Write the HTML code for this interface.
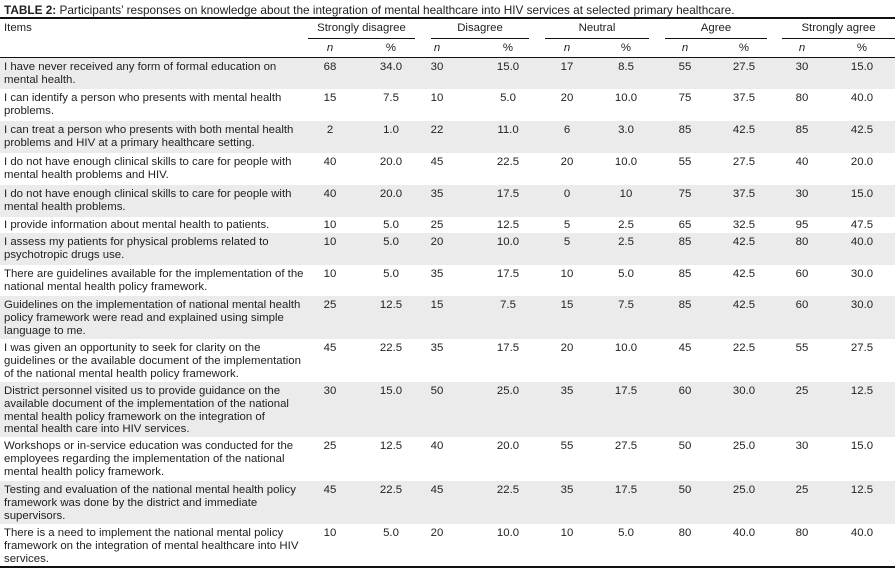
<!DOCTYPE html>
<html><head><meta charset="utf-8"><style>
body{margin:0;width:895px;height:573px;background:#fff;font-family:"Liberation Sans",sans-serif;color:#222;position:relative;overflow:hidden;font-size:11.4px;}
.a{position:absolute;white-space:nowrap;}
.r{position:absolute;left:0;width:895px;}
.g{background:#ebebeb;}
.it{position:absolute;left:4px;top:3px;line-height:12.8px;white-space:nowrap;}
.c{position:absolute;top:3px;width:40px;margin-left:-20px;text-align:center;line-height:12.8px;}
.ln{position:absolute;left:0;width:895px;background:#111;}
.ul{position:absolute;top:38px;height:1px;background:#111;}
.h{position:absolute;top:22px;text-align:center;}
.sub{position:absolute;top:42px;width:40px;margin-left:-20px;text-align:center;}
</style></head><body>
<div class="a" style="left:4px;top:3px;font-size:11.8px;"><b>TABLE 2:</b> Participants’ responses on knowledge about the integration of mental healthcare into HIV services at selected primary healthcare.</div>
<div class="ln" style="top:17px;height:2px;"></div>
<div class="a" style="left:4px;top:22px;">Items</div>
<div class="h" style="left:308px;width:107px;">Strongly disagree</div>
<div class="h" style="left:431px;width:98px;">Disagree</div>
<div class="h" style="left:545px;width:104px;">Neutral</div>
<div class="h" style="left:665px;width:102px;">Agree</div>
<div class="h" style="left:782px;width:113px;">Strongly agree</div>
<div class="ul" style="left:308px;width:107px;"></div>
<div class="ul" style="left:431px;width:98px;"></div>
<div class="ul" style="left:545px;width:104px;"></div>
<div class="ul" style="left:665px;width:102px;"></div>
<div class="ul" style="left:782px;width:113px;"></div>
<div class="sub" style="left:330px;"><i>n</i></div><div class="sub" style="left:391px;">%</div>
<div class="sub" style="left:437px;"><i>n</i></div><div class="sub" style="left:508px;">%</div>
<div class="sub" style="left:567px;"><i>n</i></div><div class="sub" style="left:626px;">%</div>
<div class="sub" style="left:685px;"><i>n</i></div><div class="sub" style="left:744px;">%</div>
<div class="sub" style="left:802px;"><i>n</i></div><div class="sub" style="left:862px;">%</div>
<div class="ln" style="top:57px;height:1px;"></div>

<div class="r g" style="top:58px;height:31px;"><div class="it">I have never received any form of formal education on<br>mental health.</div>
<div class="c" style="left:330px">68</div><div class="c" style="left:391px">34.0</div><div class="c" style="left:437px">30</div><div class="c" style="left:508px">15.0</div><div class="c" style="left:567px">17</div><div class="c" style="left:626px">8.5</div><div class="c" style="left:685px">55</div><div class="c" style="left:744px">27.5</div><div class="c" style="left:802px">30</div><div class="c" style="left:862px">15.0</div></div>

<div class="r" style="top:89px;height:32px;"><div class="it">I can identify a person who presents with mental health<br>problems.</div>
<div class="c" style="left:330px">15</div><div class="c" style="left:391px">7.5</div><div class="c" style="left:437px">10</div><div class="c" style="left:508px">5.0</div><div class="c" style="left:567px">20</div><div class="c" style="left:626px">10.0</div><div class="c" style="left:685px">75</div><div class="c" style="left:744px">37.5</div><div class="c" style="left:802px">80</div><div class="c" style="left:862px">40.0</div></div>

<div class="r g" style="top:121px;height:32px;"><div class="it">I can treat a person who presents with both mental health<br>problems and HIV at a primary healthcare setting.</div>
<div class="c" style="left:330px">2</div><div class="c" style="left:391px">1.0</div><div class="c" style="left:437px">22</div><div class="c" style="left:508px">11.0</div><div class="c" style="left:567px">6</div><div class="c" style="left:626px">3.0</div><div class="c" style="left:685px">85</div><div class="c" style="left:744px">42.5</div><div class="c" style="left:802px">85</div><div class="c" style="left:862px">42.5</div></div>

<div class="r" style="top:153px;height:32px;"><div class="it">I do not have enough clinical skills to care for people with<br>mental health problems and HIV.</div>
<div class="c" style="left:330px">40</div><div class="c" style="left:391px">20.0</div><div class="c" style="left:437px">45</div><div class="c" style="left:508px">22.5</div><div class="c" style="left:567px">20</div><div class="c" style="left:626px">10.0</div><div class="c" style="left:685px">55</div><div class="c" style="left:744px">27.5</div><div class="c" style="left:802px">40</div><div class="c" style="left:862px">20.0</div></div>

<div class="r g" style="top:185px;height:32px;"><div class="it">I do not have enough clinical skills to care for people with<br>mental health problems.</div>
<div class="c" style="left:330px">40</div><div class="c" style="left:391px">20.0</div><div class="c" style="left:437px">35</div><div class="c" style="left:508px">17.5</div><div class="c" style="left:567px">0</div><div class="c" style="left:626px">10</div><div class="c" style="left:685px">75</div><div class="c" style="left:744px">37.5</div><div class="c" style="left:802px">30</div><div class="c" style="left:862px">15.0</div></div>

<div class="r" style="top:217px;height:16px;"><div class="it" style="top:2px">I provide information about mental health to patients.</div>
<div class="c" style="left:330px;top:2px">10</div><div class="c" style="left:391px;top:2px">5.0</div><div class="c" style="left:437px;top:2px">25</div><div class="c" style="left:508px;top:2px">12.5</div><div class="c" style="left:567px;top:2px">5</div><div class="c" style="left:626px;top:2px">2.5</div><div class="c" style="left:685px;top:2px">65</div><div class="c" style="left:744px;top:2px">32.5</div><div class="c" style="left:802px;top:2px">95</div><div class="c" style="left:862px;top:2px">47.5</div></div>

<div class="r g" style="top:233px;height:32px;"><div class="it">I assess my patients for physical problems related to<br>psychotropic drugs use.</div>
<div class="c" style="left:330px">10</div><div class="c" style="left:391px">5.0</div><div class="c" style="left:437px">20</div><div class="c" style="left:508px">10.0</div><div class="c" style="left:567px">5</div><div class="c" style="left:626px">2.5</div><div class="c" style="left:685px">85</div><div class="c" style="left:744px">42.5</div><div class="c" style="left:802px">80</div><div class="c" style="left:862px">40.0</div></div>

<div class="r" style="top:265px;height:31px;"><div class="it">There are guidelines available for the implementation of the<br>national mental health policy framework.</div>
<div class="c" style="left:330px">10</div><div class="c" style="left:391px">5.0</div><div class="c" style="left:437px">35</div><div class="c" style="left:508px">17.5</div><div class="c" style="left:567px">10</div><div class="c" style="left:626px">5.0</div><div class="c" style="left:685px">85</div><div class="c" style="left:744px">42.5</div><div class="c" style="left:802px">60</div><div class="c" style="left:862px">30.0</div></div>

<div class="r g" style="top:296px;height:43px;"><div class="it">Guidelines on the implementation of national mental health<br>policy framework were read and explained using simple<br>language to me.</div>
<div class="c" style="left:330px">25</div><div class="c" style="left:391px">12.5</div><div class="c" style="left:437px">15</div><div class="c" style="left:508px">7.5</div><div class="c" style="left:567px">15</div><div class="c" style="left:626px">7.5</div><div class="c" style="left:685px">85</div><div class="c" style="left:744px">42.5</div><div class="c" style="left:802px">60</div><div class="c" style="left:862px">30.0</div></div>

<div class="r" style="top:339px;height:43px;"><div class="it">I was given an opportunity to seek for clarity on the<br>guidelines or the available document of the implementation<br>of the national mental health policy framework.</div>
<div class="c" style="left:330px">45</div><div class="c" style="left:391px">22.5</div><div class="c" style="left:437px">35</div><div class="c" style="left:508px">17.5</div><div class="c" style="left:567px">20</div><div class="c" style="left:626px">10.0</div><div class="c" style="left:685px">45</div><div class="c" style="left:744px">22.5</div><div class="c" style="left:802px">55</div><div class="c" style="left:862px">27.5</div></div>

<div class="r g" style="top:382px;height:55px;"><div class="it">District personnel visited us to provide guidance on the<br>available document of the implementation of the national<br>mental health policy framework on the integration of<br>mental health care into HIV services.</div>
<div class="c" style="left:330px">30</div><div class="c" style="left:391px">15.0</div><div class="c" style="left:437px">50</div><div class="c" style="left:508px">25.0</div><div class="c" style="left:567px">35</div><div class="c" style="left:626px">17.5</div><div class="c" style="left:685px">60</div><div class="c" style="left:744px">30.0</div><div class="c" style="left:802px">25</div><div class="c" style="left:862px">12.5</div></div>

<div class="r" style="top:437px;height:44px;"><div class="it">Workshops or in-service education was conducted for the<br>employees regarding the implementation of the national<br>mental health policy framework.</div>
<div class="c" style="left:330px">25</div><div class="c" style="left:391px">12.5</div><div class="c" style="left:437px">40</div><div class="c" style="left:508px">20.0</div><div class="c" style="left:567px">55</div><div class="c" style="left:626px">27.5</div><div class="c" style="left:685px">50</div><div class="c" style="left:744px">25.0</div><div class="c" style="left:802px">30</div><div class="c" style="left:862px">15.0</div></div>

<div class="r g" style="top:481px;height:43px;"><div class="it">Testing and evaluation of the national mental health policy<br>framework was done by the district and immediate<br>supervisors.</div>
<div class="c" style="left:330px">45</div><div class="c" style="left:391px">22.5</div><div class="c" style="left:437px">45</div><div class="c" style="left:508px">22.5</div><div class="c" style="left:567px">35</div><div class="c" style="left:626px">17.5</div><div class="c" style="left:685px">50</div><div class="c" style="left:744px">25.0</div><div class="c" style="left:802px">25</div><div class="c" style="left:862px">12.5</div></div>

<div class="r" style="top:524px;height:42px;"><div class="it">There is a need to implement the national mental policy<br>framework on the integration of mental healthcare into HIV<br>services.</div>
<div class="c" style="left:330px">10</div><div class="c" style="left:391px">5.0</div><div class="c" style="left:437px">20</div><div class="c" style="left:508px">10.0</div><div class="c" style="left:567px">10</div><div class="c" style="left:626px">5.0</div><div class="c" style="left:685px">80</div><div class="c" style="left:744px">40.0</div><div class="c" style="left:802px">80</div><div class="c" style="left:862px">40.0</div></div>

<div class="ln" style="top:566px;height:2px;"></div>
</body></html>
